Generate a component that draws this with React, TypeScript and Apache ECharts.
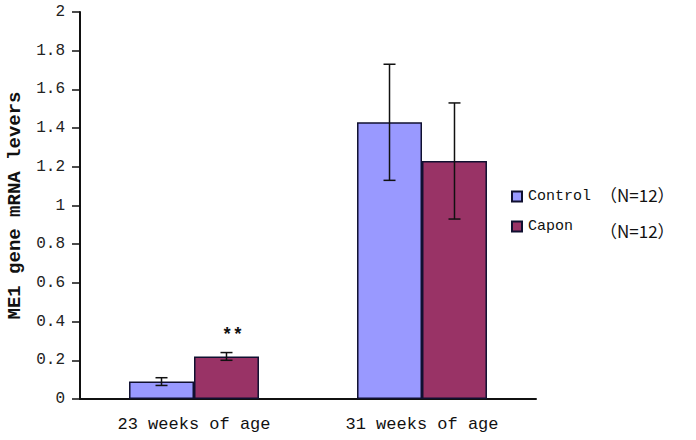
import React, { useEffect, useRef } from "react";
import * as echarts from "echarts";

const categories = ["23 weeks of age", "31 weeks of age"];
const seriesNames = ["Control", "Capon"];
const controlMeans = [0.09, 1.43];
const controlErrors = [0.02, 0.3];
const caponMeans = [0.22, 1.23];
const caponErrors = [0.02, 0.3];
const significance = ["**", ""];
const sampleNotes = ["（N=12）", "（N=12）"];
const yTicks = { min: 0, max: 2, interval: 0.2 };

const colors = ["#9999FF", "#993366"];
const MONO = "'Liberation Mono', 'DejaVu Sans Mono', monospace";
const BAR_FRAC = 0.285;

export default function App() {
  const ref = useRef<HTMLDivElement>(null);
  useEffect(() => {
    document.body.style.margin = "0";
    const chart = echarts.init(ref.current!, null, { renderer: "svg" });
    const errSeries = (idx: number, means: number[], errs: number[]) => ({
      type: "custom",
      name: seriesNames[idx] + " error",
      z: 5,
      silent: true,
      data: means.map((m, i) => [i, m, errs[i]]),
      renderItem: (params: any, api: any) => {
        const ci = api.value(0);
        const m = api.value(1);
        const e = api.value(2);
        const band = api.size([1, 0])[0];
        const off = (idx === 0 ? -1 : 1) * band * BAR_FRAC / 2;
        const top = api.coord([ci, m + e]);
        const bot = api.coord([ci, m - e]);
        const x = top[0] + off;
        const cap = 6;
        const st = { stroke: "#111", lineWidth: 1.5 };
        return {
          type: "group",
          children: [
            { type: "line", shape: { x1: x, y1: top[1], x2: x, y2: bot[1] }, style: st },
            { type: "line", shape: { x1: x - cap, y1: top[1], x2: x + cap, y2: top[1] }, style: st },
            { type: "line", shape: { x1: x - cap, y1: bot[1], x2: x + cap, y2: bot[1] }, style: st },
          ],
        };
      },
    });
    chart.setOption({
      animation: false,
      backgroundColor: "#fff",
      grid: { left: 80, right: 160, top: 12, bottom: 41, containLabel: false, outerBoundsMode: "none" },
      legend: {
        data: seriesNames,
        orient: "vertical",
        left: 506,
        top: 184,
        itemWidth: 10,
        itemHeight: 10,
        itemGap: 15,
        icon: "rect",
        textStyle: { fontFamily: MONO, fontSize: 15, color: "#111", padding: [0, 0, 0, 1] },
      },
      graphic: sampleNotes.map((t, i) => ({
        type: "text",
        left: 600,
        top: 186 + i * 36,
        style: { text: t, font: "17px 'Noto Sans CJK SC', sans-serif", fill: "#111" },
      })),
      xAxis: {
        type: "category",
        data: categories,
        axisLine: { lineStyle: { color: "#111", width: 2 } },
        axisTick: { show: false },
        axisLabel: { fontFamily: MONO, fontSize: 17, color: "#111", margin: 17 },
      },
      yAxis: {
        type: "value",
        min: yTicks.min,
        max: yTicks.max,
        interval: yTicks.interval,
        name: "ME1 gene mRNA levers",
        nameLocation: "middle",
        nameGap: 56,
        nameTextStyle: { fontFamily: MONO, fontSize: 19, fontWeight: "bold", color: "#111" },
        axisLine: { show: true, lineStyle: { color: "#111", width: 2 } },
        axisTick: { show: true, length: 8, lineStyle: { color: "#111", width: 1.5 } },
        splitLine: { show: false },
        axisLabel: { fontFamily: MONO, fontSize: 16, color: "#222", margin: 15 },
      },
      series: [
        {
          type: "bar",
          name: seriesNames[0],
          data: controlMeans,
          barWidth: BAR_FRAC * 100 + "%",
          barGap: "0%",
          itemStyle: { color: colors[0], borderColor: "#101030", borderWidth: 1.5 },
        },
        {
          type: "bar",
          name: seriesNames[1],
          data: caponMeans.map((v, i) => ({
            value: v,
            label: {
              show: !!significance[i],
              position: "top",
              distance: 12,
              offset: [6, 0],
              formatter: significance[i],
              fontFamily: MONO,
              fontSize: 18,
              fontWeight: "bold",
              color: "#111",
            },
          })),
          barWidth: BAR_FRAC * 100 + "%",
          barGap: "0%",
          itemStyle: { color: colors[1], borderColor: "#101030", borderWidth: 1.5 },
        },
        errSeries(0, controlMeans, controlErrors),
        errSeries(1, caponMeans, caponErrors),
      ],
    });
    return () => chart.dispose();
  }, []);
  return <div ref={ref} style={{ width: 696, height: 440 }} />;
}
